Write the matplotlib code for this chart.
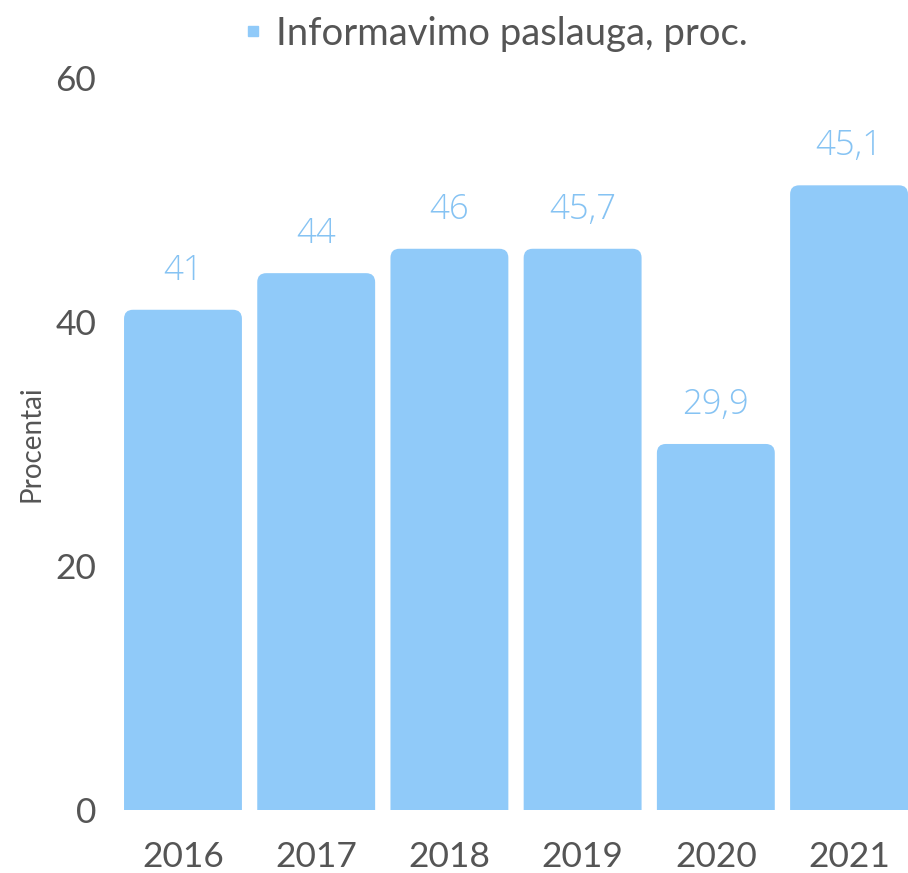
import matplotlib
matplotlib.use("Agg")
import matplotlib.pyplot as plt
from matplotlib.patches import FancyBboxPatch
from matplotlib.lines import Line2D

plt.rcParams['font.family'] = ['Lato', 'DejaVu Sans']

# data
years = ['2016', '2017', '2018', '2019', '2020', '2021']
heights = [41, 44, 46, 46, 30, 51.2]
labels = ['41', '44', '46', '45,7', '29,9', '45,1']
series_name = 'Informavimo paslauga, proc.'

bar_color = '#90CAF9'
label_color = '#86C3F3'
text_color = '#555555'

fig = plt.figure(figsize=(9.08, 8.73), dpi=100)
ax = fig.add_axes([0.1366, 0.0722, 0.8634, 0.8385])

x = range(len(years))
bars = ax.bar(x, heights, width=0.885, color=bar_color)
ax.set_xlim(-0.4425, 5.4425)
ax.set_ylim(0, 60)

# rounded top corners: swap each bar for a rounded patch reaching below zero
fig.canvas.draw()
px_x = ax.transData.transform((1, 0))[0] - ax.transData.transform((0, 0))[0]
px_y = ax.transData.transform((0, 1))[1] - ax.transData.transform((0, 0))[1]
r = 9 / px_x
for b in bars:
    b.set_visible(False)
    p = FancyBboxPatch((b.get_x(), -5), b.get_width(), b.get_height() + 5,
                       boxstyle='round,pad=0,rounding_size=%f' % r,
                       mutation_aspect=px_x / px_y,
                       facecolor=bar_color, edgecolor='none')
    ax.add_patch(p)

for i, (h, lab) in enumerate(zip(heights, labels)):
    ax.annotate(lab, (i, h), xytext=(0, 16), textcoords='offset points',
                ha='center', va='bottom', fontsize=25, color=label_color,
                family=['Open Sans', 'DejaVu Sans'], fontweight='light')

ax.set_xticks(list(x))
ax.set_xticklabels(years)
ax.set_yticks([0, 20, 40, 60])
ax.tick_params(axis='both', length=0, labelsize=25.5, labelcolor=text_color)
ax.tick_params(axis='x', pad=22)
ax.tick_params(axis='y', pad=20)
for s in ax.spines.values():
    s.set_visible(False)

ax.set_ylabel('Procentai', fontsize=20, color=text_color, labelpad=8)

h = Line2D([], [], marker='s', linestyle='none', markersize=7,
           color=bar_color)
ax.legend([h], [series_name], loc='lower center', bbox_to_anchor=(0.465, 1.015),
          frameon=False, fontsize=27.5, labelcolor=text_color,
          handletextpad=0.0, handlelength=1.2, borderaxespad=0)

fig.savefig('out.png', dpi=100)
